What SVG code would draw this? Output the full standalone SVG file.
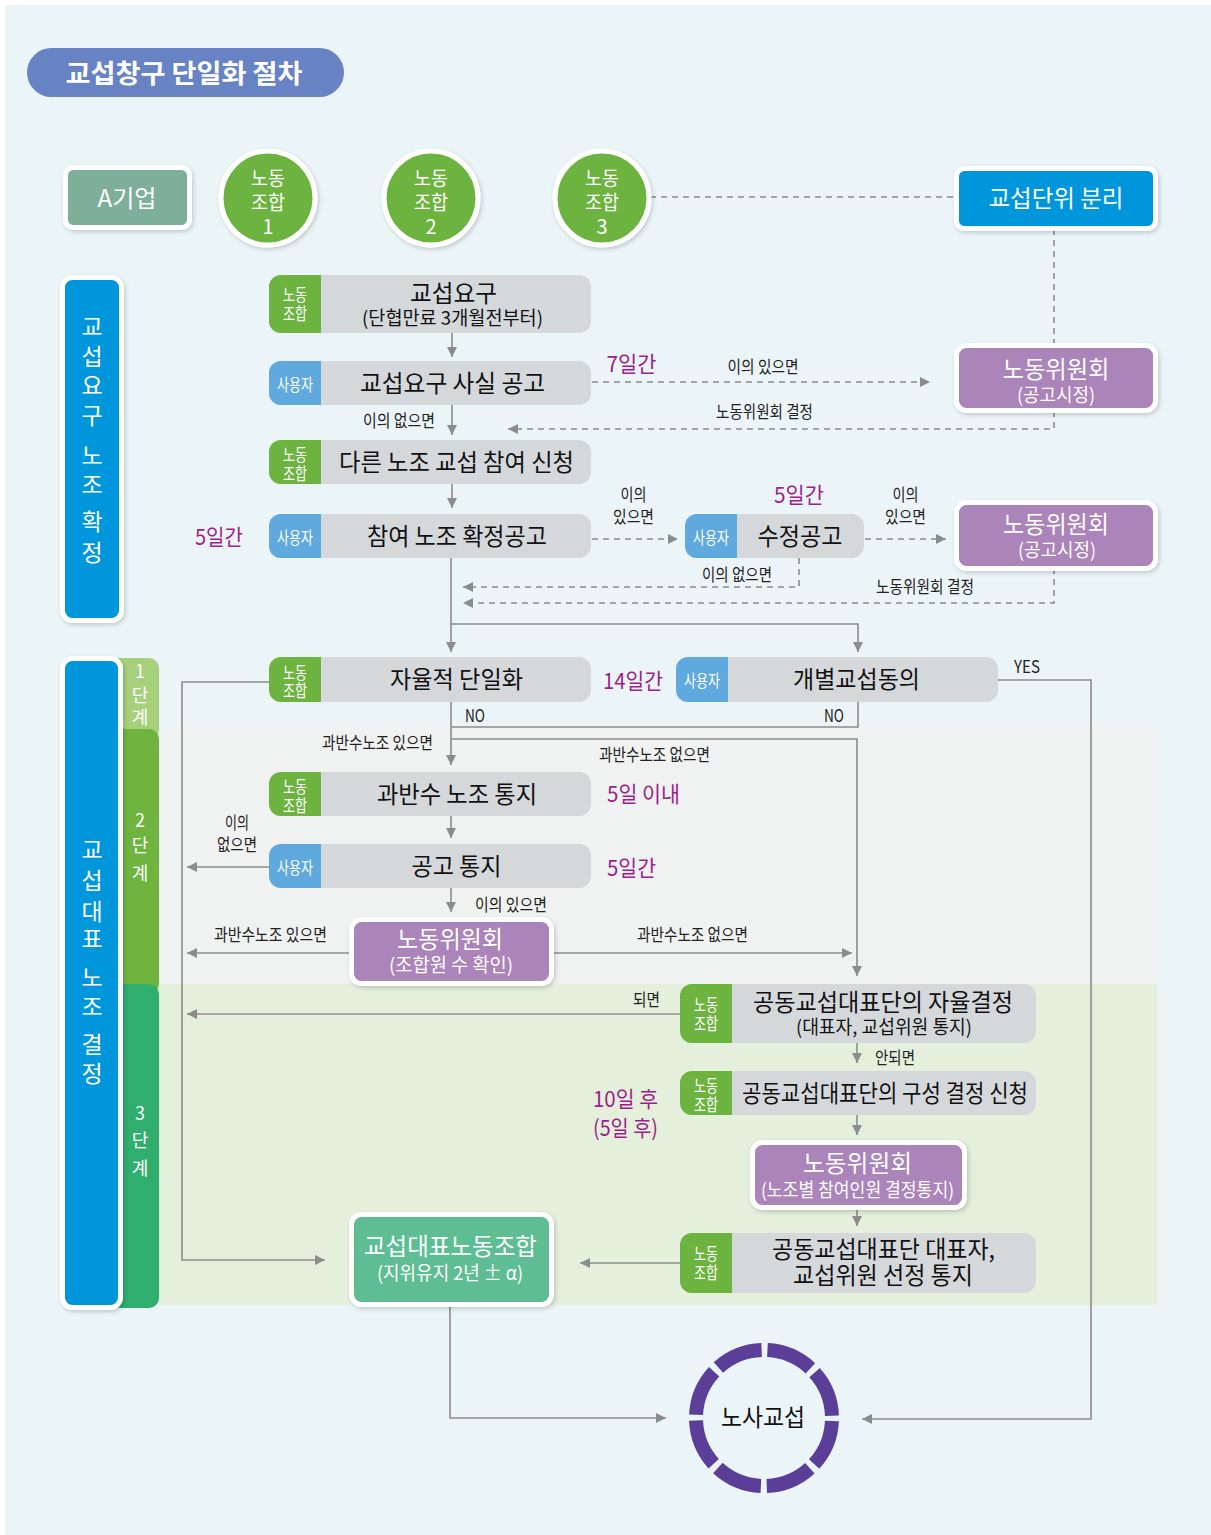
<svg xmlns="http://www.w3.org/2000/svg" width="1211" height="1535" viewBox="0 0 1211 1535">
<defs>
<style>
text{font-family:"Noto Sans CJK KR","Noto Sans",sans-serif;text-anchor:middle}
.m{font-size:24px;fill:#111}
.s{font-size:19px;fill:#111}
.w{fill:#fff}
.tag{font-size:17px;fill:#fff}
.lb{font-size:17px;fill:#222}
.pu{font-size:22px;fill:#9c1f8c}
.body{fill:#d5d8db}
.tg{fill:#6db33f}
.tb{fill:#5fa9de}
.pp{fill:#ab84b9;stroke:#fff;stroke-width:5}
.ln{fill:none;stroke:#8c8c8c;stroke-width:1.6}
.dl{fill:none;stroke:#8c8c8c;stroke-width:1.6;stroke-dasharray:6 5}
</style>
<marker id="ar" viewBox="0 0 10 10" refX="10" refY="5" markerWidth="11" markerHeight="10" markerUnits="userSpaceOnUse" orient="auto"><path d="M0,0 L10,5 L0,10 Z" fill="#8c8c8c"/></marker>
<filter id="sh" x="-10%" y="-10%" width="130%" height="140%"><feDropShadow dx="1.5" dy="2" stdDeviation="2" flood-color="#000" flood-opacity="0.18"/></filter>
</defs>
<rect x="0" y="0" width="1211" height="1535" fill="#fff"/>
<rect x="5" y="5" width="1206" height="1530" fill="#ebf5f7"/>
<rect x="159" y="729" width="998" height="255" fill="#f0f1f1"/>
<rect x="159" y="984" width="998" height="321" fill="#e4f0db"/>

<g id="title">
<rect x="27" y="48" width="317" height="49" rx="24.5" fill="#6783c3"/>
<text x="184" y="83" font-size="26" font-weight="bold" fill="#fff" textLength="237" lengthAdjust="spacingAndGlyphs">교섭창구 단일화 절차</text>
</g>

<g id="stage-bars">
<rect x="110" y="658" width="49" height="82" rx="10" fill="#a6d07c"/>
<rect x="110" y="729" width="49" height="265" rx="10" fill="#6eb43f"/>
<rect x="110" y="984" width="49" height="324" rx="10" fill="#2fae6e"/>
<text class="w" font-size="18"><tspan x="140" y="678">1</tspan><tspan x="140" y="702">단</tspan><tspan x="140" y="724">계</tspan></text>
<text class="w" font-size="18"><tspan x="140" y="827">2</tspan><tspan x="140" y="852">단</tspan><tspan x="140" y="880">계</tspan></text>
<text class="w" font-size="18"><tspan x="140" y="1120">3</tspan><tspan x="140" y="1147">단</tspan><tspan x="140" y="1175">계</tspan></text>
</g>

<g id="bar-confirm">
<rect x="62.5" y="277.5" width="59" height="343" rx="10" fill="#0096dc" stroke="#fff" stroke-width="5" filter="url(#sh)"/>
<text class="w" font-size="23"><tspan x="92" y="335">교</tspan><tspan x="92" y="365">섭</tspan><tspan x="92" y="394">요</tspan><tspan x="92" y="424">구</tspan><tspan x="92" y="464">노</tspan><tspan x="92" y="493">조</tspan><tspan x="92" y="530">확</tspan><tspan x="92" y="561">정</tspan></text>
</g>
<g id="bar-decide">
<rect x="62.5" y="658.5" width="58" height="649" rx="10" fill="#0096dc" stroke="#fff" stroke-width="5" filter="url(#sh)"/>
<text class="w" font-size="23"><tspan x="92" y="858">교</tspan><tspan x="92" y="889">섭</tspan><tspan x="92" y="920">대</tspan><tspan x="92" y="947">표</tspan><tspan x="92" y="986">노</tspan><tspan x="92" y="1015">조</tspan><tspan x="92" y="1053">결</tspan><tspan x="92" y="1082">정</tspan></text>
</g>

<g id="connectors">
<path class="dl" d="M650,197 H955"/>
<path class="dl" d="M1054,229 V346"/>
<path class="ln" d="M452,333 V357" marker-end="url(#ar)"/>
<path class="dl" d="M592,382 H930" marker-end="url(#ar)"/>
<path class="dl" d="M1054,411 V429 H508" marker-end="url(#ar)"/>
<path class="ln" d="M452,405 V435" marker-end="url(#ar)"/>
<path class="ln" d="M452,484 V508" marker-end="url(#ar)"/>
<path class="dl" d="M592,539 H678" marker-end="url(#ar)"/>
<path class="dl" d="M865,539 H946" marker-end="url(#ar)"/>
<path class="dl" d="M799,558 V587 H463" marker-end="url(#ar)"/>
<path class="dl" d="M1054,568 V603 H463" marker-end="url(#ar)"/>
<path class="ln" d="M451,558 V652" marker-end="url(#ar)"/>
<path class="ln" d="M451,624 H858 V652" marker-end="url(#ar)"/>
<path class="ln" d="M269,682 H182 V1260 H325" marker-end="url(#ar)"/>
<path class="ln" d="M998,680 H1091 V1419 H862" marker-end="url(#ar)"/>
<path class="ln" d="M451,702 V765" marker-end="url(#ar)"/>
<path class="ln" d="M451,727 H858 V702"/>
<path class="ln" d="M451,739 H857 V976" marker-end="url(#ar)"/>
<path class="ln" d="M451,816 V838" marker-end="url(#ar)"/>
<path class="ln" d="M269,867 H187" marker-end="url(#ar)"/>
<path class="ln" d="M451,888 V912" marker-end="url(#ar)"/>
<path class="ln" d="M351,953 H187" marker-end="url(#ar)"/>
<path class="ln" d="M551,953 H852" marker-end="url(#ar)"/>
<path class="ln" d="M680,1014 H187" marker-end="url(#ar)"/>
<path class="ln" d="M857,1043 V1063" marker-end="url(#ar)"/>
<path class="ln" d="M857,1115 V1135" marker-end="url(#ar)"/>
<path class="ln" d="M857,1210 V1226" marker-end="url(#ar)"/>
<path class="ln" d="M680,1263 H580" marker-end="url(#ar)"/>
<path class="ln" d="M450,1306 V1418 H666" marker-end="url(#ar)"/>
</g>

<g id="labels">
<text class="pu" x="631.5" y="372" textLength="50" lengthAdjust="spacingAndGlyphs">7일간</text>
<text class="pu" x="219" y="545" textLength="48" lengthAdjust="spacingAndGlyphs">5일간</text>
<text class="pu" x="799" y="503" textLength="50" lengthAdjust="spacingAndGlyphs">5일간</text>
<text class="pu" x="633" y="689" textLength="60" lengthAdjust="spacingAndGlyphs">14일간</text>
<text class="pu" x="643.5" y="802" textLength="73" lengthAdjust="spacingAndGlyphs">5일 이내</text>
<text class="pu" x="631.5" y="876" textLength="49" lengthAdjust="spacingAndGlyphs">5일간</text>
<text class="pu" x="625.5" y="1107" textLength="65" lengthAdjust="spacingAndGlyphs">10일 후</text>
<text class="pu" x="625.5" y="1136" textLength="65" lengthAdjust="spacingAndGlyphs">(5일 후)</text>
<text class="lb" x="763" y="373" textLength="71" lengthAdjust="spacingAndGlyphs">이의 있으면</text>
<text class="lb" x="764.5" y="418" textLength="97" lengthAdjust="spacingAndGlyphs">노동위원회 결정</text>
<text class="lb" x="399" y="427" textLength="72" lengthAdjust="spacingAndGlyphs">이의 없으면</text>
<text class="lb" x="633.5" y="501" textLength="26" lengthAdjust="spacingAndGlyphs">이의</text>
<text class="lb" x="633.5" y="523" textLength="41" lengthAdjust="spacingAndGlyphs">있으면</text>
<text class="lb" x="905.5" y="501" textLength="26" lengthAdjust="spacingAndGlyphs">이의</text>
<text class="lb" x="905.5" y="523" textLength="41" lengthAdjust="spacingAndGlyphs">있으면</text>
<text class="lb" x="737" y="581" textLength="70" lengthAdjust="spacingAndGlyphs">이의 없으면</text>
<text class="lb" x="925" y="593" textLength="98" lengthAdjust="spacingAndGlyphs">노동위원회 결정</text>
<text class="lb" x="1027" y="673" textLength="26" lengthAdjust="spacingAndGlyphs">YES</text>
<text class="lb" x="475" y="722" textLength="20" lengthAdjust="spacingAndGlyphs">NO</text>
<text class="lb" x="834" y="722" textLength="20" lengthAdjust="spacingAndGlyphs">NO</text>
<text class="lb" x="377.5" y="749" textLength="111" lengthAdjust="spacingAndGlyphs">과반수노조 있으면</text>
<text class="lb" x="654.5" y="761" textLength="111" lengthAdjust="spacingAndGlyphs">과반수노조 없으면</text>
<text class="lb" x="237" y="829" textLength="24" lengthAdjust="spacingAndGlyphs">이의</text>
<text class="lb" x="237" y="851" textLength="40" lengthAdjust="spacingAndGlyphs">없으면</text>
<text class="lb" x="511" y="911" textLength="72" lengthAdjust="spacingAndGlyphs">이의 있으면</text>
<text class="lb" x="270.5" y="941" textLength="113" lengthAdjust="spacingAndGlyphs">과반수노조 있으면</text>
<text class="lb" x="692.5" y="941" textLength="111" lengthAdjust="spacingAndGlyphs">과반수노조 없으면</text>
<text class="lb" x="646.5" y="1006" textLength="27" lengthAdjust="spacingAndGlyphs">되면</text>
<text class="lb" x="895" y="1064" textLength="40" lengthAdjust="spacingAndGlyphs">안되면</text>
</g>

<g id="n-company">
<rect x="65.5" y="167.5" width="124" height="60" rx="8" fill="#7daf9a" stroke="#fff" stroke-width="5" filter="url(#sh)"/>
<text class="w" x="127" y="207" font-size="24" textLength="59" lengthAdjust="spacingAndGlyphs">A기업</text>
</g>
<g id="n-union1">
<circle cx="268" cy="198" r="47" fill="#6db33f" stroke="#fff" stroke-width="5" filter="url(#sh)"/>
<text class="w" font-size="20"><tspan x="268" y="186" textLength="34" lengthAdjust="spacingAndGlyphs">노동</tspan><tspan x="268" y="210" textLength="34" lengthAdjust="spacingAndGlyphs">조합</tspan><tspan x="268" y="234">1</tspan></text>
</g>
<g id="n-union2">
<circle cx="431" cy="198" r="47" fill="#6db33f" stroke="#fff" stroke-width="5" filter="url(#sh)"/>
<text class="w" font-size="20"><tspan x="431" y="186" textLength="34" lengthAdjust="spacingAndGlyphs">노동</tspan><tspan x="431" y="210" textLength="34" lengthAdjust="spacingAndGlyphs">조합</tspan><tspan x="431" y="234">2</tspan></text>
</g>
<g id="n-union3">
<circle cx="602" cy="198" r="47" fill="#6db33f" stroke="#fff" stroke-width="5" filter="url(#sh)"/>
<text class="w" font-size="20"><tspan x="602" y="186" textLength="34" lengthAdjust="spacingAndGlyphs">노동</tspan><tspan x="602" y="210" textLength="34" lengthAdjust="spacingAndGlyphs">조합</tspan><tspan x="602" y="234">3</tspan></text>
</g>
<g id="n-split">
<rect x="956.5" y="168.5" width="199" height="60" rx="8" fill="#0096dc" stroke="#fff" stroke-width="5" filter="url(#sh)"/>
<text class="w" x="1056" y="207" font-size="24" textLength="135" lengthAdjust="spacingAndGlyphs">교섭단위 분리</text>
</g>

<g id="n-request">
<rect class="body" x="269" y="275" width="322" height="58" rx="12"/>
<rect class="tg" x="269" y="275" width="52" height="58" rx="12"/><rect class="tg" x="309" y="275" width="12" height="58"/>
<text class="tag"><tspan x="295" y="301" textLength="24" lengthAdjust="spacingAndGlyphs">노동</tspan><tspan x="295" y="320" textLength="24" lengthAdjust="spacingAndGlyphs">조합</tspan></text>
<text class="m" x="453.5" y="302" textLength="87" lengthAdjust="spacingAndGlyphs">교섭요구</text>
<text class="s" x="452.5" y="325" textLength="181" lengthAdjust="spacingAndGlyphs">(단협만료 3개월전부터)</text>
</g>
<g id="n-notice">
<rect class="body" x="269" y="361" width="322" height="44" rx="12"/>
<rect class="tb" x="269" y="361" width="52" height="44" rx="12"/><rect class="tb" x="309" y="361" width="12" height="44"/>
<text class="tag" x="295" y="391" textLength="36" lengthAdjust="spacingAndGlyphs">사용자</text>
<text class="m" x="452.5" y="392" textLength="185" lengthAdjust="spacingAndGlyphs">교섭요구 사실 공고</text>
</g>
<g id="n-join">
<rect class="body" x="269" y="440" width="322" height="44" rx="12"/>
<rect class="tg" x="269" y="440" width="52" height="44" rx="12"/><rect class="tg" x="309" y="440" width="12" height="44"/>
<text class="tag"><tspan x="295" y="461" textLength="24" lengthAdjust="spacingAndGlyphs">노동</tspan><tspan x="295" y="480" textLength="24" lengthAdjust="spacingAndGlyphs">조합</tspan></text>
<text class="m" x="456.5" y="471" textLength="235" lengthAdjust="spacingAndGlyphs">다른 노조 교섭 참여 신청</text>
</g>
<g id="n-confirm">
<rect class="body" x="269" y="514" width="322" height="44" rx="12"/>
<rect class="tb" x="269" y="514" width="52" height="44" rx="12"/><rect class="tb" x="309" y="514" width="12" height="44"/>
<text class="tag" x="295" y="544" textLength="36" lengthAdjust="spacingAndGlyphs">사용자</text>
<text class="m" x="457" y="545" textLength="180" lengthAdjust="spacingAndGlyphs">참여 노조 확정공고</text>
</g>
<g id="n-revise">
<rect class="body" x="685" y="514" width="179" height="44" rx="12"/>
<rect class="tb" x="685" y="514" width="52" height="44" rx="12"/><rect class="tb" x="725" y="514" width="12" height="44"/>
<text class="tag" x="711" y="544" textLength="36" lengthAdjust="spacingAndGlyphs">사용자</text>
<text class="m" x="800" y="545" textLength="85" lengthAdjust="spacingAndGlyphs">수정공고</text>
</g>
<g id="n-lc1">
<rect class="pp" x="956.5" y="345.5" width="199" height="65" rx="10" filter="url(#sh)"/>
<text class="w" x="1056" y="378" font-size="24" textLength="107" lengthAdjust="spacingAndGlyphs">노동위원회</text>
<text class="w" x="1056" y="402" font-size="19" textLength="78" lengthAdjust="spacingAndGlyphs">(공고시정)</text>
</g>
<g id="n-lc2">
<rect class="pp" x="956.5" y="502.5" width="199" height="66" rx="10" filter="url(#sh)"/>
<text class="w" x="1056" y="533" font-size="24" textLength="106" lengthAdjust="spacingAndGlyphs">노동위원회</text>
<text class="w" x="1057" y="557" font-size="19" textLength="78" lengthAdjust="spacingAndGlyphs">(공고시정)</text>
</g>

<g id="n-auto">
<rect class="body" x="269" y="657" width="322" height="45" rx="12"/>
<rect class="tg" x="269" y="657" width="52" height="45" rx="12"/><rect class="tg" x="309" y="657" width="12" height="45"/>
<text class="tag"><tspan x="295" y="679" textLength="24" lengthAdjust="spacingAndGlyphs">노동</tspan><tspan x="295" y="697" textLength="24" lengthAdjust="spacingAndGlyphs">조합</tspan></text>
<text class="m" x="456.5" y="688" textLength="133" lengthAdjust="spacingAndGlyphs">자율적 단일화</text>
</g>
<g id="n-individual">
<rect class="body" x="676" y="657" width="322" height="45" rx="12"/>
<rect class="tb" x="676" y="657" width="52" height="45" rx="12"/><rect class="tb" x="716" y="657" width="12" height="45"/>
<text class="tag" x="702" y="687" textLength="36" lengthAdjust="spacingAndGlyphs">사용자</text>
<text class="m" x="856.5" y="688" textLength="127" lengthAdjust="spacingAndGlyphs">개별교섭동의</text>
</g>
<g id="n-majority">
<rect class="body" x="269" y="772" width="322" height="44" rx="12"/>
<rect class="tg" x="269" y="772" width="52" height="44" rx="12"/><rect class="tg" x="309" y="772" width="12" height="44"/>
<text class="tag"><tspan x="295" y="793" textLength="24" lengthAdjust="spacingAndGlyphs">노동</tspan><tspan x="295" y="812" textLength="24" lengthAdjust="spacingAndGlyphs">조합</tspan></text>
<text class="m" x="457" y="803" textLength="160" lengthAdjust="spacingAndGlyphs">과반수 노조 통지</text>
</g>
<g id="n-announce">
<rect class="body" x="269" y="844" width="322" height="44" rx="12"/>
<rect class="tb" x="269" y="844" width="52" height="44" rx="12"/><rect class="tb" x="309" y="844" width="12" height="44"/>
<text class="tag" x="295" y="874" textLength="36" lengthAdjust="spacingAndGlyphs">사용자</text>
<text class="m" x="456.5" y="875" textLength="90" lengthAdjust="spacingAndGlyphs">공고 통지</text>
</g>
<g id="n-lc3">
<rect class="pp" x="351.5" y="919.5" width="200" height="64" rx="10" filter="url(#sh)"/>
<text class="w" x="450" y="948" font-size="24" textLength="106" lengthAdjust="spacingAndGlyphs">노동위원회</text>
<text class="w" x="451" y="972" font-size="19" textLength="124" lengthAdjust="spacingAndGlyphs">(조합원 수 확인)</text>
</g>

<g id="n-joint">
<rect class="body" x="680" y="984" width="356" height="59" rx="12"/>
<rect class="tg" x="680" y="984" width="52" height="59" rx="12"/><rect class="tg" x="720" y="984" width="12" height="59"/>
<text class="tag"><tspan x="706" y="1011" textLength="24" lengthAdjust="spacingAndGlyphs">노동</tspan><tspan x="706" y="1030" textLength="24" lengthAdjust="spacingAndGlyphs">조합</tspan></text>
<text class="m" x="883" y="1011" textLength="260" lengthAdjust="spacingAndGlyphs">공동교섭대표단의 자율결정</text>
<text class="s" x="884" y="1034" textLength="176" lengthAdjust="spacingAndGlyphs">(대표자, 교섭위원 통지)</text>
</g>
<g id="n-apply">
<rect class="body" x="680" y="1071" width="356" height="44" rx="12"/>
<rect class="tg" x="680" y="1071" width="52" height="44" rx="12"/><rect class="tg" x="720" y="1071" width="12" height="44"/>
<text class="tag"><tspan x="706" y="1092" textLength="24" lengthAdjust="spacingAndGlyphs">노동</tspan><tspan x="706" y="1111" textLength="24" lengthAdjust="spacingAndGlyphs">조합</tspan></text>
<text class="m" x="885" y="1102" textLength="286" lengthAdjust="spacingAndGlyphs">공동교섭대표단의 구성 결정 신청</text>
</g>
<g id="n-lc4">
<rect class="pp" x="752.5" y="1142.5" width="212" height="65" rx="10" filter="url(#sh)"/>
<text class="w" x="857.5" y="1172" font-size="24" textLength="109" lengthAdjust="spacingAndGlyphs">노동위원회</text>
<text class="w" x="857.5" y="1197" font-size="19" textLength="193" lengthAdjust="spacingAndGlyphs">(노조별 참여인원 결정통지)</text>
</g>
<g id="n-select">
<rect class="body" x="680" y="1233" width="356" height="60" rx="12"/>
<rect class="tg" x="680" y="1233" width="52" height="60" rx="12"/><rect class="tg" x="720" y="1233" width="12" height="60"/>
<text class="tag"><tspan x="706" y="1260" textLength="24" lengthAdjust="spacingAndGlyphs">노동</tspan><tspan x="706" y="1279" textLength="24" lengthAdjust="spacingAndGlyphs">조합</tspan></text>
<text class="m" x="883.5" y="1258" textLength="223" lengthAdjust="spacingAndGlyphs">공동교섭대표단 대표자,</text>
<text class="m" x="883" y="1284" textLength="180" lengthAdjust="spacingAndGlyphs">교섭위원 선정 통지</text>
</g>
<g id="n-rep">
<rect x="351.5" y="1214.5" width="200" height="90" rx="10" fill="#5fbd94" stroke="#fff" stroke-width="5" filter="url(#sh)"/>
<text class="w" x="450.5" y="1255" font-size="24" textLength="173" lengthAdjust="spacingAndGlyphs">교섭대표노동조합</text>
<text class="w" x="450" y="1280" font-size="19" textLength="146" lengthAdjust="spacingAndGlyphs">(지위유지 2년 ± α)</text>
</g>
<g id="n-bargain">
<circle cx="764" cy="1418" r="68" fill="none" stroke="#5a3e97" stroke-width="14" stroke-dasharray="47.41 6" stroke-dashoffset="50.41"/>
<text class="m" x="763" y="1426" font-size="26" textLength="84" lengthAdjust="spacingAndGlyphs">노사교섭</text>
</g>
</svg>
